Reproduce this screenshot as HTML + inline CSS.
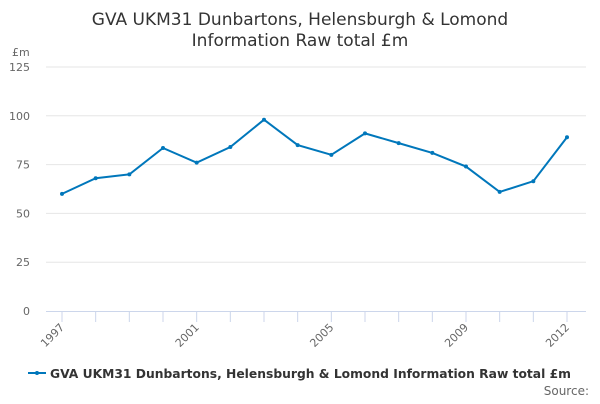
<!DOCTYPE html>
<html><head><meta charset="utf-8"><style>
body{margin:0;background:#fff;font-family:"DejaVu Sans","Liberation Sans",sans-serif;}
</style></head><body>
<svg width="600" height="400" xmlns="http://www.w3.org/2000/svg">
<text x="300" y="25" text-anchor="middle" font-size="17" fill="#333"><tspan x="300">GVA UKM31 Dunbartons, Helensburgh &amp; Lomond</tspan><tspan x="300" dy="21">Information Raw total £m</tspan></text>
<text x="12" y="56" font-size="11" fill="#666">£m</text>
<g id="grid"></g><g id="xaxis"></g><g id="series"></g>
<g>
<line x1="28" y1="373" x2="46" y2="373" stroke="#0077bb" stroke-width="2"/>
<circle cx="37" cy="373" r="2" fill="#0077bb"/>
<text x="50" y="378" font-size="12.5" font-weight="bold" fill="#333" textLength="521" lengthAdjust="spacingAndGlyphs">GVA UKM31 Dunbartons, Helensburgh &amp; Lomond Information Raw total £m</text>
</g>
<text x="589" y="395" text-anchor="end" font-size="12" fill="#666">Source:</text>
</svg>
<script>
const years=[1997,1998,1999,2000,2001,2002,2003,2004,2005,2006,2007,2008,2009,2010,2011,2012];
const values=[60,68,70,83.5,76,84,98,85,80,91,86,81,74,61,66.5,89];
const yTicks=[0,25,50,75,100,125];
const xLabels=[1997,2001,2005,2009,2012];
const NS="http://www.w3.org/2000/svg";
const x=v=>62+(v-1997)*(567-62)/15;
const y=v=>311-v*(311-67)/125;
function mk(t,a,p){const e=document.createElementNS(NS,t);for(const k in a)e.setAttribute(k,a[k]);p.appendChild(e);return e;}
const g=document.getElementById('grid');
yTicks.forEach(t=>{
 if(t>0){const l=mk('line',{x1:46,x2:586,y1:y(t),y2:y(t),stroke:'#e6e6e6'},g);
 
 }
 const tx=mk('text',{x:30,y:y(t)+4,'text-anchor':'end','font-size':11,fill:'#666'},g);tx.textContent=t;
 
 
});
const xa=document.getElementById('xaxis');
const ax=mk('line',{x1:46,x2:586,y1:311.5,y2:311.5,stroke:'#ccd6eb'},xa);


years.forEach(yr=>{const t=mk('line',{x1:x(yr),x2:x(yr),y1:311,y2:322,stroke:'#ccd6eb'},xa);
 
 });
xLabels.forEach(yr=>{const X=x(yr)+3,Y=328;
 const t=mk('text',{x:X,y:Y,'text-anchor':'end','font-size':11,fill:'#666',transform:`rotate(-45 ${X} ${Y})`},xa);t.textContent=yr;
 
 });
const s=document.getElementById('series');
const pl=mk('polyline',{points:years.map((yr,i)=>x(yr)+','+y(values[i])).join(' '),fill:'none',stroke:'#0077bb','stroke-width':2},s);


years.forEach((yr,i)=>{const c=mk('circle',{cx:x(yr),cy:y(values[i]),r:2,fill:'#0077bb'},s);
 
 });
</script>
</body></html>
